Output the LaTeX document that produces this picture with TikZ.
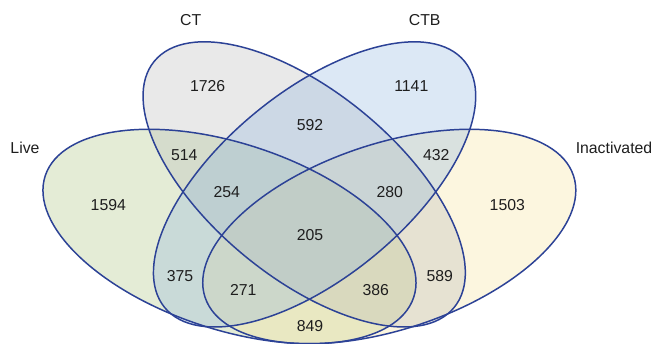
\documentclass[tikz,border=0pt]{standalone}
\usepackage{fontspec}
\setmainfont{Liberation Sans}
\usepackage{xcolor}
\definecolor{livefill}{RGB}{165,192,118}
\definecolor{ctfill}{RGB}{182,182,182}
\definecolor{ctbfill}{RGB}{138,178,222}
\definecolor{inactfill}{RGB}{245,224,150}
\definecolor{vennline}{RGB}{44,66,150}
\definecolor{counttext}{RGB}{30,30,30}

\begin{document}
\begin{tikzpicture}[x=0.02cm,y=0.02cm,font=\fontsize{9}{11}\selectfont,
    setfill/.style={fill opacity=0.3},
    rim/.style={draw=vennline,line width=0.85pt},
    count/.style={text=counttext}]
  \useasboundingbox (0,0) rectangle (653,344);
  \coordinate (live) at (229.5,107.5);
  \coordinate (ct) at (304.2,159.6);
  \coordinate (ctb) at (314.6,159.6);
  \coordinate (inact) at (389.3,107.5);
  % fills
  \fill[livefill,setfill,rotate around={-18.25:(live)}] (live) ellipse [x radius=194,y radius=93];
  \fill[inactfill,setfill,rotate around={18.25:(inact)}] (inact) ellipse [x radius=194,y radius=93];
  \fill[ctfill,setfill,rotate around={-39.4:(ct)}] (ct) ellipse [x radius=194,y radius=93];
  \fill[ctbfill,setfill,rotate around={39.4:(ctb)}] (ctb) ellipse [x radius=194,y radius=93];
  % outlines
  \draw[rim,rotate around={-18.25:(live)}] (live) ellipse [x radius=194,y radius=93];
  \draw[rim,rotate around={18.25:(inact)}] (inact) ellipse [x radius=194,y radius=93];
  \draw[rim,rotate around={-39.4:(ct)}] (ct) ellipse [x radius=194,y radius=93];
  \draw[rim,rotate around={39.4:(ctb)}] (ctb) ellipse [x radius=194,y radius=93];
  % set names
  \node[count] (ctname) at (190.7,324) {CT};
  \node[count] (ctbname) at (424.7,324) {CTB};
  \node[count] (livename) at (25,195.7) {Live};
  \node[count] (inactname) at (614,195.7) {Inactivated};
  % counts
  \node[count] (n1726) at (207.7,258) {1726};
  \node[count] (n1141) at (411.3,258) {1141};
  \node[count] (n592) at (310,219) {592};
  \node[count] (n514) at (184.3,189) {514};
  \node[count] (n432) at (436.3,189) {432};
  \node[count] (n1594) at (108.3,138.7) {1594};
  \node[count] (n1503) at (507.3,138.7) {1503};
  \node[count] (n254) at (226.7,152) {254};
  \node[count] (n280) at (389.7,152) {280};
  \node[count] (n205) at (310,108.7) {205};
  \node[count] (n375) at (180,68) {375};
  \node[count] (n589) at (439.7,68) {589};
  \node[count] (n271) at (243.3,53.7) {271};
  \node[count] (n386) at (375.7,53.7) {386};
  \node[count] (n849) at (310,18) {849};
\end{tikzpicture}
\end{document}
